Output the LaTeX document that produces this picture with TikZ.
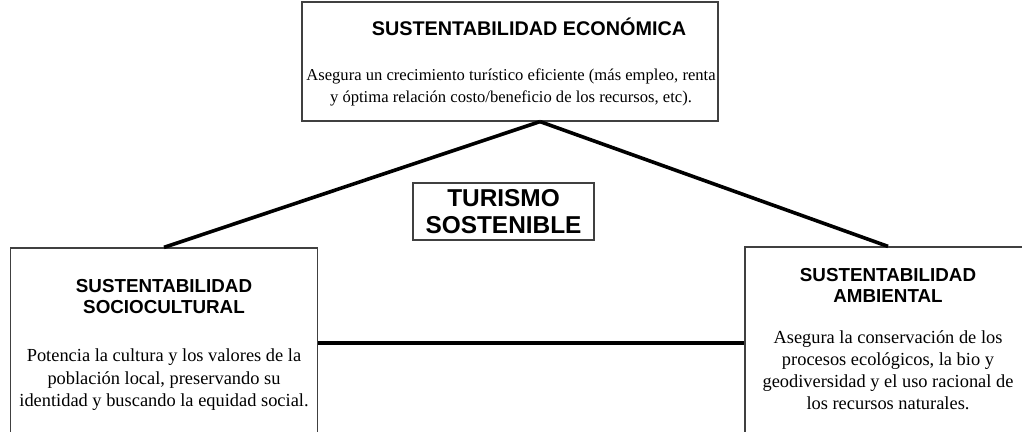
\documentclass[tikz,border=0pt]{standalone}
\usepackage{fontspec}
\setmainfont{Liberation Serif}
\setsansfont{Liberation Sans}
\usetikzlibrary{positioning}

\tikzset{
  box/.style={draw=black!75, line width=0.6pt, inner sep=0pt},
  title/.style={font=\sffamily\bfseries\fontsize{9.4}{10.5}\selectfont, align=center},
  body/.style={font=\fontsize{9.2}{11.3}\selectfont, align=center},
  link/.style={line width=1.8pt}
}

\begin{document}
\begin{tikzpicture}[x=0.5pt, y=-0.5pt]

    \clip (0,0) rectangle (1022,432);

    % top: economic
    \node[box, minimum width=208pt, minimum height=59.5pt] (eco) at (510,61.5) {};
    \node[title, font=\sffamily\bfseries\fontsize{9.9}{11}\selectfont] (ecoT) at (529,27) {SUSTENTABILIDAD ECONÓMICA};
    \node[body, font=\fontsize{8.3}{11}\selectfont] (ecoB) at (511,87) {Asegura un crecimiento turístico eficiente (más empleo, renta\\
      y óptima relación costo/beneficio de los recursos, etc).};

    % left: sociocultural
    \node[box, minimum width=153.5pt, minimum height=95pt] (soc) at (164,343) {};
    \node[title] (socT) at (164,297) {SUSTENTABILIDAD\\SOCIOCULTURAL};
    \node[body] (socB) at (164,380) {Potencia la cultura y los valores de la\\
      población local, preservando su\\identidad y buscando la equidad social.};

    % right: environmental
    \node[box, minimum width=143pt, minimum height=96pt] (amb) at (888,343) {};
    \node[title] (ambT) at (888,285) {SUSTENTABILIDAD\\AMBIENTAL};
    \node[body, font=\fontsize{9.2}{11}\selectfont] (ambB) at (888,370) {Asegura la conservación de los\\procesos ecológicos, la bio y\\
      geodiversidad y el uso racional de\\los recursos naturales.};

    % centre
    \node[box, title, font=\sffamily\bfseries\fontsize{12.2}{13.5}\selectfont,
      minimum width=90.5pt, minimum height=28.5pt] (tur) at (503.5,211.5) {TURISMO\\SOSTENIBLE};

    \draw[link] ([xshift=15pt]eco.south) -- (soc.north);
    \draw[link] ([xshift=15pt]eco.south) -- (amb.north);
    \draw[link] (soc.east) -- (amb.west);

\end{tikzpicture}
\end{document}
